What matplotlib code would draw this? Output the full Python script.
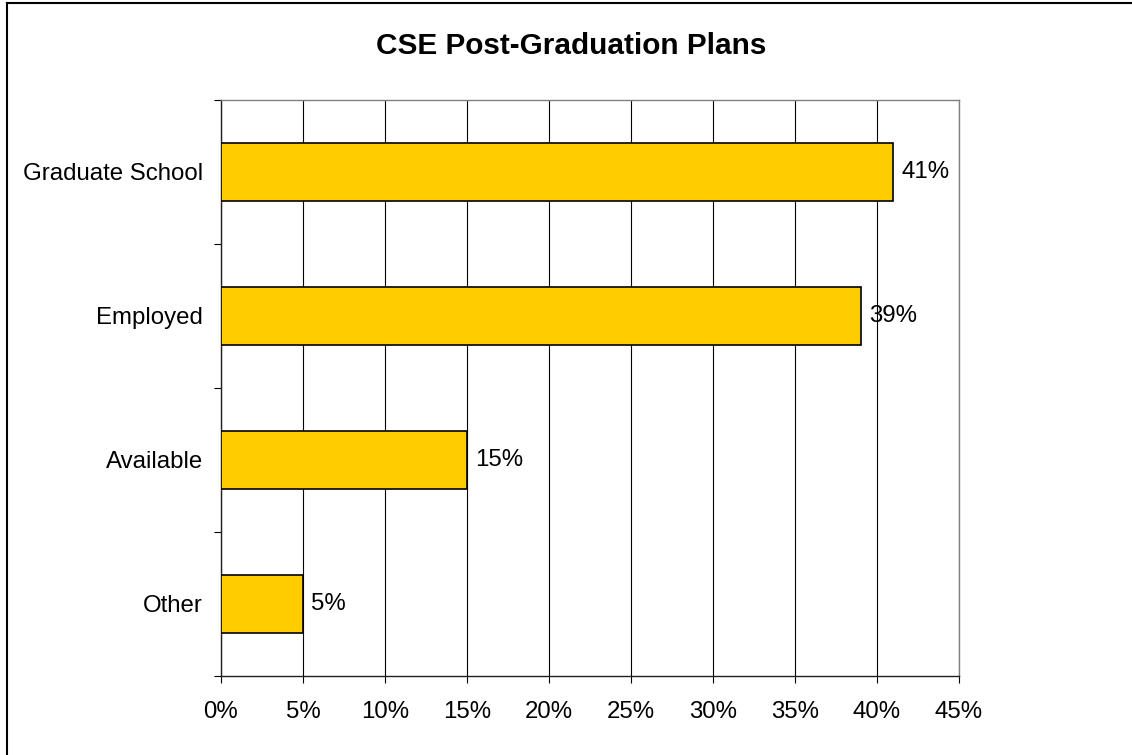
import matplotlib
matplotlib.use('Agg')
import matplotlib.pyplot as plt
from matplotlib.lines import Line2D

plt.rcParams['font.family'] = ['Liberation Sans', 'DejaVu Sans']

# Data
categories = ['Graduate School', 'Employed', 'Available', 'Other']
values = [41, 39, 15, 5]
xticks = [0, 5, 10, 15, 20, 25, 30, 35, 40, 45]

fig = plt.figure(figsize=(11.32, 7.55), dpi=100)
ax = fig.add_axes([221 / 1132, 1 - 676 / 755, 738 / 1132, 576 / 755])

pos = list(range(len(categories)))
ax.barh(pos, values, height=0.4, color='#FFCC00', edgecolor='black',
        linewidth=1.2, zorder=3)
for p, v in zip(pos, values):
    ax.text(v + 0.5, p, str(v) + '%', va='center', ha='left', fontsize=17.3)

ax.set_xlim(0, 45)
ax.set_ylim(3.5, -0.5)
ax.set_xticks(xticks)
ax.set_xticklabels([str(t) + '%' for t in xticks], fontsize=17.3)
ax.xaxis.grid(True, color='black', linewidth=0.8, zorder=0)
ax.tick_params(axis='x', direction='out', length=5, width=0.8, pad=13)

ax.set_yticks(pos)
ax.set_yticklabels(categories, fontsize=17.3)
ax.set_yticks([-0.5, 0.5, 1.5, 2.5, 3.5], minor=True)
ax.tick_params(axis='y', which='major', length=0, pad=13)
ax.tick_params(axis='y', which='minor', direction='out', length=5, width=0.8)

ax.spines['left'].set_color('#202020')
ax.spines['bottom'].set_color('#202020')
ax.spines['top'].set_color('#808080')
ax.spines['right'].set_color('#808080')
for s in ax.spines.values():
    s.set_linewidth(1.0)

fig.text(571 / 1132, 1 - 46 / 755, 'CSE Post-Graduation Plans', ha='center',
         va='center', fontsize=21.4, fontweight='bold')

# outer chart border
fig.add_artist(Line2D([7 / 1132, 7 / 1132], [0, 1 - 3 / 755], color='black', linewidth=1.5))
fig.add_artist(Line2D([7 / 1132, 1], [1 - 3 / 755, 1 - 3 / 755], color='black', linewidth=1.5))

fig.savefig('out.png', dpi=100)
